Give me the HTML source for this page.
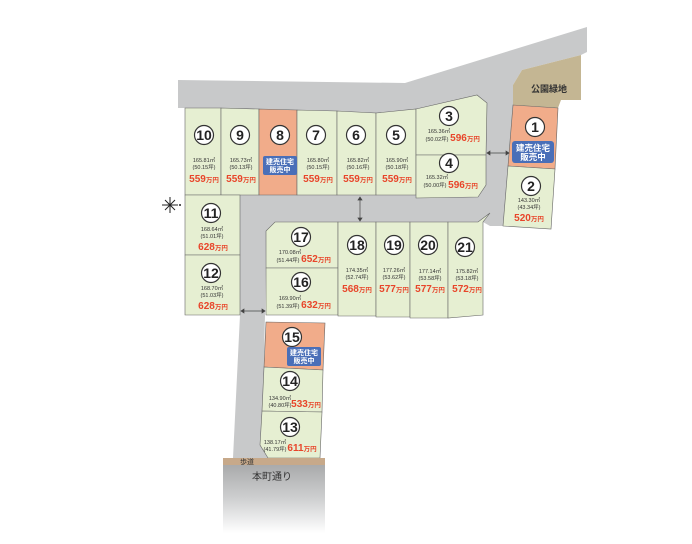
<!DOCTYPE html>
<html><head><meta charset="utf-8"><style>
body{margin:0;background:#fff}
svg text{font-family:"Liberation Sans","Noto Sans CJK JP",sans-serif}
.n{font-size:14px;font-weight:bold;fill:#222;text-anchor:middle}
.a{font-size:5.5px;fill:#333;text-anchor:middle}
.p{font-size:10px;font-weight:bold;fill:#e8452a;text-anchor:middle}
.p tspan{font-size:6.5px}
.b{font-size:7px;font-weight:bold;fill:#fff;text-anchor:middle}
.lot{fill:#e6efd2;stroke:#666;stroke-width:0.6}
.sal{fill:#f1ac8a;stroke:#666;stroke-width:0.6}
circle.c{fill:#fff;stroke:#333;stroke-width:1.2}
</style></head><body>
<svg width="692" height="539" viewBox="0 0 692 539" xmlns="http://www.w3.org/2000/svg">
<defs><linearGradient id="g" x1="0" y1="0" x2="0" y2="1"><stop offset="0" stop-color="#a9aaab"/><stop offset="0.5" stop-color="#cfd0d1"/><stop offset="1" stop-color="#fff"/></linearGradient></defs>
<polygon fill="#c8c9ca" points="178,80 405,83 587,27 587,52 581,55 522,70 513,85 513,105 508,166 503,226 490,226 483,222 275,224 266,232 265,315 262,445 268,458 233,458 240,315 240,195 185,195 185,108 178,108"/>
<polygon fill="#c8c9ca" points="185,108 416,109 487,95 487,195 300,198 185,195"/>
<polygon fill="#c4b693" points="522,70 581,55 581,100 561,100 558,108 513,105 513,85"/>
<text x="549" y="92" style="font-size:9px;font-weight:bold;fill:#333;text-anchor:middle">公園緑地</text>
<polygon class="lot" points="185,108 221,108 221,195 185,195"/>
<polygon class="lot" points="221,108 259,109 259,195 221,195"/>
<polygon class="sal" points="259,109 297,110 297,195 259,195"/>
<polygon class="lot" points="297,110 337,111 337,195 297,195"/>
<polygon class="lot" points="337,111 376,113 376,195 337,195"/>
<polygon class="lot" points="376,113 416,109 416,195 376,195"/>
<polygon class="lot" points="416,109 477,95 487,103 486,155 416,155"/>
<polygon class="lot" points="416,155 486,155 486,185 478,197 416,198"/>
<polygon class="sal" points="513,105 558,108 555,169 508,166"/>
<polygon class="lot" points="508,166 555,169 551,229 503,226"/>
<polygon class="lot" points="185,195 240,195 240,255 185,255"/>
<polygon class="lot" points="185,255 240,255 240,315 185,315"/>
<polygon class="lot" points="275,222 338,222 338,268 266,268 266,231"/>
<polygon class="lot" points="266,268 338,268 338,315 266,315"/>
<polygon class="lot" points="338,222 376,222 376,316 338,316"/>
<polygon class="lot" points="376,222 410,222 410,317 376,317"/>
<polygon class="lot" points="410,222 448,222 448,318 410,318"/>
<polygon class="lot" points="448,222 478,222 490,213 483,222 483,315 448,318"/>
<polygon class="sal" points="266,322 325,323 323,370 264,367"/>
<polygon class="lot" points="264,367 323,370 322,412 262,411"/>
<polygon class="lot" points="262,411 322,412 320,458 268,458 260,445"/>
<rect x="223" y="458" width="102" height="7" fill="#c7a98a"/>
<rect x="223" y="465" width="102" height="68" fill="url(#g)"/>
<text x="247" y="464" style="font-size:7px;fill:#333;text-anchor:middle">歩道</text>
<text x="272" y="480" style="font-size:10px;fill:#333;text-anchor:middle">本町通り</text>
<g stroke="#444" stroke-width="0.7" fill="#444">
<line x1="360" y1="198" x2="360" y2="220"/><polygon points="358,200 362,200 360,197"/><polygon points="358,218 362,218 360,221"/>
<line x1="488" y1="153" x2="508" y2="153"/><polygon points="490,151 490,155 487,153"/><polygon points="506,151 506,155 509,153"/>
<line x1="242" y1="311" x2="264" y2="311"/><polygon points="244,309 244,313 241,311"/><polygon points="262,309 262,313 265,311"/>
</g>
<g stroke="#222" stroke-width="1"><line x1="162" y1="205" x2="178" y2="205"/><line x1="170" y1="197" x2="170" y2="213"/><line x1="165" y1="200" x2="175" y2="210"/><line x1="175" y1="200" x2="165" y2="210"/></g>
<circle cx="180" cy="205" r="1" fill="#222"/>
<g>
<circle class="c" cx="204" cy="135" r="9.5"/><text class="n" x="204" y="140">10</text>
<circle class="c" cx="240" cy="135" r="9.5"/><text class="n" x="240" y="140">9</text>
<circle class="c" cx="280" cy="135" r="9.5"/><text class="n" x="280" y="140">8</text>
<circle class="c" cx="316" cy="135" r="9.5"/><text class="n" x="316" y="140">7</text>
<circle class="c" cx="356" cy="135" r="9.5"/><text class="n" x="356" y="140">6</text>
<circle class="c" cx="396" cy="135" r="9.5"/><text class="n" x="396" y="140">5</text>
<circle class="c" cx="449" cy="116" r="9.5"/><text class="n" x="449" y="121">3</text>
<circle class="c" cx="449" cy="163" r="9.5"/><text class="n" x="449" y="168">4</text>
<circle class="c" cx="535" cy="127" r="9.5"/><text class="n" x="535" y="132">1</text>
<circle class="c" cx="531" cy="186" r="9.5"/><text class="n" x="531" y="191">2</text>
<circle class="c" cx="211" cy="213" r="9.5"/><text class="n" x="211" y="218">11</text>
<circle class="c" cx="211" cy="273" r="9.5"/><text class="n" x="211" y="278">12</text>
<circle class="c" cx="301" cy="237" r="9.5"/><text class="n" x="301" y="242">17</text>
<circle class="c" cx="301" cy="282" r="9.5"/><text class="n" x="301" y="287">16</text>
<circle class="c" cx="357" cy="245" r="9.5"/><text class="n" x="357" y="250">18</text>
<circle class="c" cx="394" cy="245" r="9.5"/><text class="n" x="394" y="250">19</text>
<circle class="c" cx="428" cy="245" r="9.5"/><text class="n" x="428" y="250">20</text>
<circle class="c" cx="465" cy="247" r="9.5"/><text class="n" x="465" y="252">21</text>
<circle class="c" cx="292" cy="337" r="9.5"/><text class="n" x="292" y="342">15</text>
<circle class="c" cx="290" cy="381" r="9.5"/><text class="n" x="290" y="386">14</text>
<circle class="c" cx="290" cy="427" r="9.5"/><text class="n" x="290" y="432">13</text>
</g>
<g>
<text class="a" x="204" y="162">165.81㎡</text><text class="a" x="204" y="169">(50.15坪)</text><text class="p" x="204" y="182">559<tspan>万円</tspan></text>
<text class="a" x="241" y="162">165.73㎡</text><text class="a" x="241" y="169">(50.13坪)</text><text class="p" x="241" y="182">559<tspan>万円</tspan></text>
<text class="a" x="318" y="162">165.80㎡</text><text class="a" x="318" y="169">(50.15坪)</text><text class="p" x="318" y="182">559<tspan>万円</tspan></text>
<text class="a" x="358" y="162">165.82㎡</text><text class="a" x="358" y="169">(50.16坪)</text><text class="p" x="358" y="182">559<tspan>万円</tspan></text>
<text class="a" x="397" y="162">165.90㎡</text><text class="a" x="397" y="169">(50.18坪)</text><text class="p" x="397" y="182">559<tspan>万円</tspan></text>
<text class="a" x="439" y="133">165.36㎡</text><text class="a" x="437" y="141">(50.02坪)</text><text class="p" x="465" y="141">596<tspan>万円</tspan></text>
<text class="a" x="437" y="179">165.32㎡</text><text class="a" x="435" y="187">(50.00坪)</text><text class="p" x="463" y="188">596<tspan>万円</tspan></text>
<text class="a" x="529" y="202">143.30㎡</text><text class="a" x="529" y="209">(43.34坪)</text><text class="p" x="529" y="221">520<tspan>万円</tspan></text>
<text class="a" x="212" y="231">168.64㎡</text><text class="a" x="212" y="238">(51.01坪)</text><text class="p" x="213" y="250">628<tspan>万円</tspan></text>
<text class="a" x="212" y="290">168.70㎡</text><text class="a" x="212" y="297">(51.03坪)</text><text class="p" x="213" y="309">628<tspan>万円</tspan></text>
<text class="a" x="290" y="254">170.08㎡</text><text class="a" x="288" y="262">(51.44坪)</text><text class="p" x="316" y="262">652<tspan>万円</tspan></text>
<text class="a" x="290" y="300">169.90㎡</text><text class="a" x="288" y="308">(51.39坪)</text><text class="p" x="316" y="308">632<tspan>万円</tspan></text>
<text class="a" x="357" y="272">174.35㎡</text><text class="a" x="357" y="279">(52.74坪)</text><text class="p" x="357" y="292">568<tspan>万円</tspan></text>
<text class="a" x="394" y="272">177.26㎡</text><text class="a" x="394" y="279">(53.62坪)</text><text class="p" x="394" y="292">577<tspan>万円</tspan></text>
<text class="a" x="430" y="273">177.14㎡</text><text class="a" x="430" y="280">(53.58坪)</text><text class="p" x="430" y="292">577<tspan>万円</tspan></text>
<text class="a" x="467" y="273">175.82㎡</text><text class="a" x="467" y="280">(53.18坪)</text><text class="p" x="467" y="292">572<tspan>万円</tspan></text>
<text class="a" x="280" y="400">134.90㎡</text><text class="a" x="280" y="407">(40.80坪)</text><text class="p" x="306" y="407">533<tspan>万円</tspan></text>
<text class="a" x="275" y="444">138.17㎡</text><text class="a" x="275" y="451">(41.79坪)</text><text class="p" x="302" y="451">611<tspan>万円</tspan></text>
</g>
<g>
<rect x="263" y="156" width="34" height="19" rx="2" fill="#4a6fb8"/><text class="b" x="280" y="164">建売住宅</text><text class="b" x="280" y="172">販売中</text>
<rect x="512" y="141" width="42" height="22" rx="3" fill="#4a6fb8"/><text class="b" x="533" y="151" style="font-size:8.5px">建売住宅</text><text class="b" x="533" y="160" style="font-size:8.5px">販売中</text>
<rect x="287" y="347" width="34" height="19" rx="2" fill="#4a6fb8"/><text class="b" x="304" y="355">建売住宅</text><text class="b" x="304" y="363">販売中</text>
</g>
</svg>
</body></html>
